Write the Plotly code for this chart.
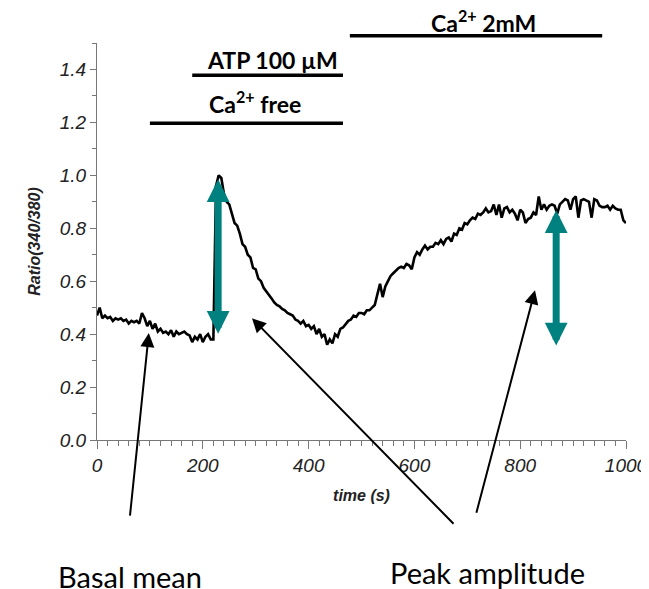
import plotly.graph_objects as go

# sampling times (s), every 5 s
time_s = list(range(0, 1001, 5))

# Fura-2 ratio 340/380
ratio = [
    0.47, 0.50, 0.46, 0.47, 0.46, 0.465, 0.45, 0.46, 0.455, 0.46,     # 0-45
    0.45, 0.455, 0.44, 0.45, 0.445, 0.45, 0.44, 0.48, 0.46, 0.43,     # 50-95
    0.45, 0.42, 0.44, 0.41, 0.42, 0.405, 0.41, 0.40, 0.415, 0.39,     # 100-145
    0.41, 0.40, 0.405, 0.41, 0.40, 0.395, 0.37, 0.39, 0.38, 0.40,     # 150-195
    0.37, 0.39, 0.40, 0.38, 0.38, 0.96, 1.00, 0.99, 0.93, 0.90,       # 200-245
    0.89, 0.85, 0.82, 0.81, 0.78, 0.74, 0.73, 0.70, 0.69, 0.65,       # 250-295
    0.645, 0.61, 0.60, 0.575, 0.56, 0.545, 0.535, 0.52, 0.51, 0.505,  # 300-345
    0.495, 0.49, 0.48, 0.475, 0.47, 0.455, 0.45, 0.44, 0.45, 0.43,    # 350-395
    0.435, 0.42, 0.43, 0.40, 0.42, 0.39, 0.40, 0.36, 0.38, 0.365,     # 400-445
    0.40, 0.39, 0.42, 0.425, 0.44, 0.45, 0.455, 0.47, 0.465, 0.48,    # 450-495
    0.48, 0.475, 0.49, 0.49, 0.50, 0.51, 0.55, 0.59, 0.54, 0.58,      # 500-545
    0.60, 0.62, 0.63, 0.64, 0.65, 0.655, 0.65, 0.665, 0.66, 0.645,    # 550-595
    0.69, 0.71, 0.70, 0.72, 0.735, 0.72, 0.73, 0.73, 0.745, 0.74,     # 600-645
    0.755, 0.74, 0.76, 0.765, 0.75, 0.78, 0.775, 0.80, 0.795, 0.82,   # 650-695
    0.815, 0.83, 0.84, 0.835, 0.855, 0.85, 0.86, 0.875, 0.86, 0.865,  # 700-745
    0.89, 0.85, 0.89, 0.84, 0.875, 0.88, 0.86, 0.87, 0.855, 0.83,     # 750-795
    0.87, 0.86, 0.82, 0.835, 0.84, 0.86, 0.85, 0.92, 0.87, 0.89,      # 800-845
    0.87, 0.885, 0.89, 0.885, 0.855, 0.89, 0.90, 0.91, 0.905, 0.87,   # 850-895
    0.91, 0.92, 0.84, 0.905, 0.91, 0.905, 0.90, 0.84, 0.91, 0.905,    # 900-945
    0.885, 0.88, 0.88, 0.885, 0.87, 0.885, 0.875, 0.87, 0.87, 0.83,   # 950-995
    0.82,                                                             # 1000
]

x_range = [0, 1000]
y_range = [0, 1.5]
x_ticks = [0, 200, 400, 600, 800, 1000]
y_ticks = [0.0, 0.2, 0.4, 0.6, 0.8, 1.0, 1.2, 1.4]

# treatment bars: (label, start s, end s)
treatments = [
    ("Ca<sup>2+</sup> 2mM", 478, 955),
    ("ATP 100 µM", 180, 465),
    ("Ca<sup>2+</sup> free", 100, 465),
]

# teal double arrows: (time, peak value, basal value)
amplitude_arrows = [(229, 0.985, 0.396), (868, 0.868, 0.351)]

# black pointer arrows: (tip time, tip ratio)
basal_pointer = (98, 0.404)
peak_pointers = [(293, 0.46), (828, 0.566)]

fig = go.Figure()
fig.add_trace(go.Scatter(x=time_s, y=ratio, mode="lines",
                         line=dict(color="black", width=2.6),
                         showlegend=False, hoverinfo="skip"))

tick_font = dict(family="Liberation Sans Narrow, Liberation Sans, Arial", size=19, color="#222",
                 style="italic")
title_font = dict(family="Liberation Sans, Arial", size=16, color="#222", style="italic", weight="bold")
fig.update_xaxes(range=x_range, tickvals=x_ticks, ticks="outside", ticklen=8, tickcolor="#777",
                 showline=True, linecolor="#777", linewidth=1, showgrid=False, zeroline=False,
                 tickfont=tick_font, automargin=False,
                 minor=dict(dtick=20, ticks="outside", ticklen=5, tickcolor="#777", showgrid=False),
                 title=dict(text="time (s)", font=title_font))
fig.update_yaxes(range=y_range, tickvals=y_ticks, tickformat=".1f", ticks="outside", ticklen=6, tickcolor="#777",
                 showline=True, linecolor="#777", linewidth=1, showgrid=False, zeroline=False,
                 tickfont=tick_font, automargin=False,
                 minor=dict(dtick=0.1, ticks="outside", ticklen=4, tickcolor="#777", showgrid=False),
                 title=dict(text="Ratio(340/380)", font=title_font))

# mapping helper from time to paper x, based on the axis range
def px(t):
    return (t - x_range[0]) / (x_range[1] - x_range[0])

bar_y = [1.018, 0.919, 0.798]
label_y = [1.055, 0.957, 0.849]
label_x = [0.730, 0.331, 0.299]
shapes = []
annotations = []
label_font = dict(family="Lato, Liberation Sans", size=23, color="black", weight="bold")
for (lab, t0, t1), by, ly, lx in zip(treatments, bar_y, label_y, label_x):
    shapes.append(dict(type="line", xref="paper", yref="paper", x0=px(t0), x1=px(t1), y0=by, y1=by,
                       line=dict(color="black", width=3.5)))
    annotations.append(dict(text=lab, xref="paper", yref="paper", x=lx, y=ly,
                            showarrow=False, font=label_font, xanchor="center", yanchor="middle"))

for t, top, bot in amplitude_arrows:
    annotations.append(dict(text="", x=t, y=top, xref="x", yref="y", ax=t, ay=bot, axref="x", ayref="y",
                            showarrow=True, arrowside="end+start", arrowhead=2, startarrowhead=2,
                            arrowsize=0.65, startarrowsize=0.65, arrowwidth=7, arrowcolor="#00807f",
                            standoff=0, startstandoff=0))

# black pointer arrows
annotations.append(dict(text="", x=basal_pointer[0], y=basal_pointer[1], xref="x", yref="y",
                        ax=-19, ay=184, showarrow=True, arrowhead=2, arrowsize=1.4, arrowwidth=2,
                        arrowcolor="black"))
for (t, r), (ax, ay) in zip(peak_pointers, [(203, 207), (-59, 224)]):
    annotations.append(dict(text="", x=t, y=r, xref="x", yref="y", ax=ax, ay=ay, showarrow=True,
                            arrowhead=2, arrowsize=1.4, arrowwidth=2, arrowcolor="black"))

bottom_font = dict(family="Lato, Liberation Sans", size=29, color="black")
annotations.append(dict(text="Basal mean", xref="paper", yref="paper", x=0.062, y=-0.345,
                        showarrow=False, font=bottom_font, xanchor="center", yanchor="middle"))
annotations.append(dict(text="Peak amplitude", xref="paper", yref="paper", x=0.739, y=-0.335,
                        showarrow=False, font=bottom_font, xanchor="center", yanchor="middle"))

# the page body adds an 8 px offset, so the figure is made 8 px smaller
fig.update_layout(width=641, height=581, margin=dict(l=89, r=23, t=35, b=149),
                  plot_bgcolor="white", paper_bgcolor="white",
                  shapes=shapes, annotations=annotations, showlegend=False)

fig.write_html("out.html")
